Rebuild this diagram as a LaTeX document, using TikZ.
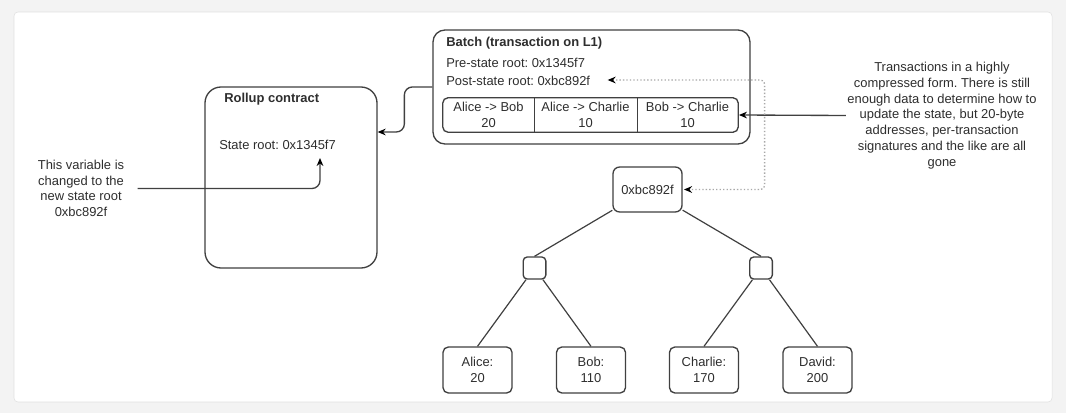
\documentclass[tikz,border=0pt]{standalone}
\usepackage{fontspec}
\setmainfont{Liberation Sans}
\usepackage{xcolor}
\usepackage{tikz}
\usetikzlibrary{arrows.meta, positioning, calc, fit}
\definecolor{rlink}{HTML}{404040}
\definecolor{rtext}{HTML}{2E2E2E}
\definecolor{rdots}{HTML}{A8A8A8}
\definecolor{rpage}{HTML}{F3F3F3}
\definecolor{rcard}{HTML}{E0E0E0}

\begin{document}
\begin{tikzpicture}[
    x=0.75pt, y=-0.75pt,
    font=\fontsize{9.7}{11.8}\selectfont\frenchspacing, text=rtext,
    rbox/.style={rectangle, rounded corners=#1, draw=rlink, line width=1pt},
    leafbox/.style={rbox=4pt, minimum width=51.75pt, minimum height=34.5pt, align=center, inner sep=0pt},
    hashbox/.style={rbox=3pt, minimum width=17pt, minimum height=16.5pt, inner sep=0pt},
    txcell/.style={rectangle, minimum height=25.5pt, align=center, inner sep=0pt},
    rowtext/.style={anchor=west, inner sep=0pt},
    note/.style={align=center, inner sep=1pt},
    link/.style={draw=rlink, line width=1pt, -{Stealth[length=6pt, width=5pt, color=black]}},
    dotlink/.style={draw=rdots, line width=1pt, dash pattern=on 1pt off 1.6pt,
        {Stealth[length=6pt, width=5pt, color=black]}-{Stealth[length=6pt, width=5pt, color=black]}},
    branch/.style={draw=rlink, line width=0.9pt},
]
\useasboundingbox (0,0) rectangle (1066,413);
\fill[rpage] (0,0) rectangle (1066,413);
\draw[rcard, fill=white, rounded corners=3pt] (14,12) rectangle (1052,402);

% rollup contract on L1
\node[rbox=12pt, minimum width=129pt, minimum height=135.75pt] (rollup) at (291,177.5) {};
\node[rowtext] (rolluptitle) at (224,99) {\textbf{Rollup contract}};
\node[rowtext] (stateroot) at (219,145) {State root: 0x1345f7};
\coordinate (rootmark) at (320,158);
\node[note] (leftnote) at (81,188.5) {This variable is\\changed to the\\new state root\\0xbc892f};

% the batch
\node[rbox=9pt, minimum width=237.75pt, minimum height=85.5pt] (batch) at (591.5,87) {};
\node[rowtext] (batchtitle) at (446,43) {\textbf{Batch (transaction on L1)}};
\node[rowtext] (prestate) at (446,63) {Pre-state root: 0x1345f7};
\node[rowtext] (poststate) at (446,81) {Post-state root: 0xbc892f};
\node[txcell, minimum width=68.25pt] (tx1) at (488.5,115) {Alice -> Bob\\20};
\node[txcell, minimum width=77.25pt] (tx2) at (585.5,115) {Alice -> Charlie\\10};
\node[txcell, minimum width=75.75pt] (tx3) at (687.5,115) {Bob -> Charlie\\10};
\node[rbox=4pt, fit=(tx1)(tx3), inner sep=0pt] (txs) {};
\draw[branch] (tx1.north east) -- (tx1.south east);
\draw[branch] (tx2.north east) -- (tx2.south east);
\node[note] (rightnote) at (942,115.5) {Transactions in a highly\\compressed form. There is still\\enough data to determine how to\\update the state, but 20-byte\\addresses, per-transaction\\signatures and the like are all\\gone};

% state tree
\node[rbox=5pt, minimum width=51.75pt, minimum height=33.75pt] (root) at (647.5,189.5) {0xbc892f};
\node[hashbox] (hashL) at (534.5,268) {};
\node[hashbox] (hashR) at (761,268) {};
\node[leafbox] (alice) at (477.5,370) {Alice:\\20};
\node[leafbox] (bob) at (591,370) {Bob:\\110};
\node[leafbox] (charlie) at (704,370) {Charlie:\\170};
\node[leafbox] (david) at (817.5,370) {David:\\200};

\draw[branch] (root) -- (hashL.north);
\draw[branch] (root) -- (hashR.north);
\draw[branch] (hashL) -- (alice.north);
\draw[branch] (hashL) -- (bob.north);
\draw[branch] (hashR) -- (charlie.north);
\draw[branch] (hashR) -- (david.north);

% connectors
\draw[link, rounded corners=6pt] (batch.west) -- ++(-28,0) |- (rollup.east |- 0,132);
\draw[link, rounded corners=6pt] ([xshift=9pt]leftnote.east) -| (rootmark);
\draw[link] (rightnote.west) -- (txs.east);
\draw[dotlink, rounded corners=3pt] ([xshift=13pt]poststate.east |- 0,80) -- ++(157,0) |- ([xshift=1pt]root.east);
\end{tikzpicture}
\end{document}
